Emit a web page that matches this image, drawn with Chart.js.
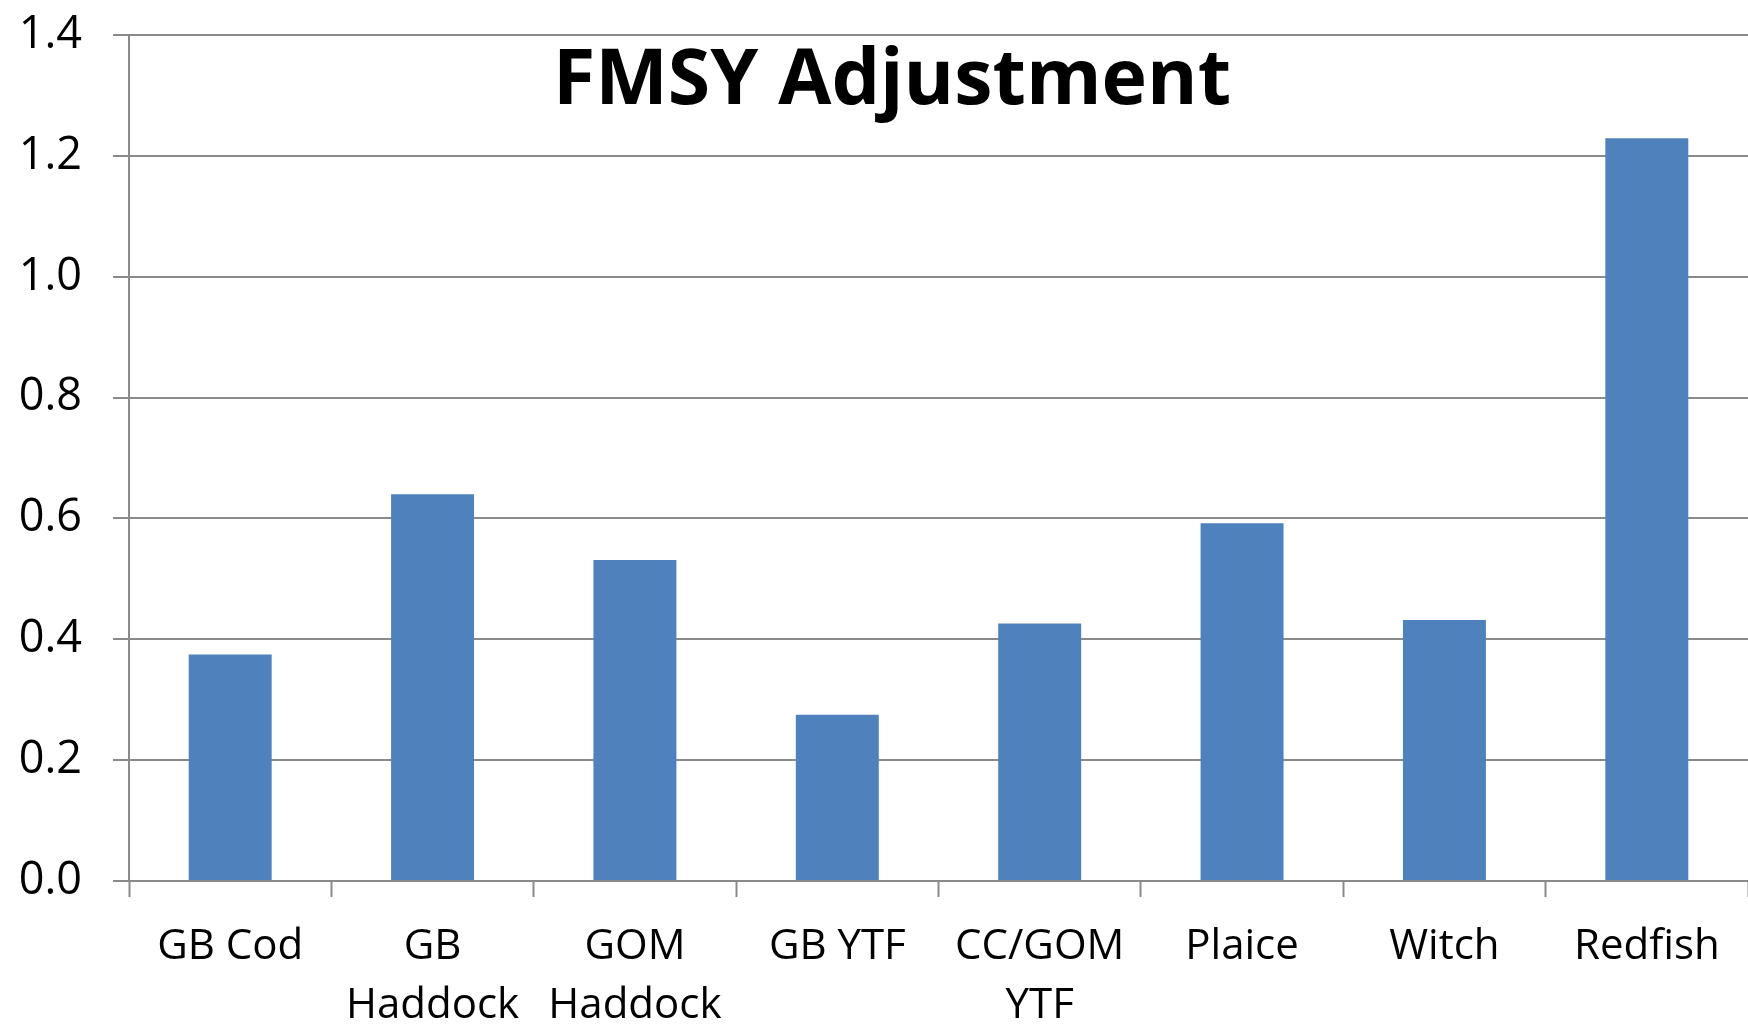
<!DOCTYPE html>
<html>
<head>
<meta charset="utf-8">
<title>FMSY Adjustment</title>
<script src="https://cdn.jsdelivr.net/npm/chart.js@4/dist/chart.umd.min.js"></script>
<style>
  html, body { margin: 0; padding: 0; background: #fff; }
  #wrap { width: 1748px; height: 1026px; position: relative; }
</style>
</head>
<body>
<div id="wrap"><canvas id="chart"></canvas></div>
<script>
// ===================== DATA =====================
const TITLE = 'FMSY Adjustment';
const stocks = ['GB Cod', ['GB', 'Haddock'], ['GOM', 'Haddock'], 'GB YTF', ['CC/GOM', 'YTF'], 'Plaice', 'Witch', 'Redfish'];
const adjustment = [0.375, 0.64, 0.531, 0.275, 0.426, 0.592, 0.432, 1.229];
const yTicks = [0, 0.2, 0.4, 0.6, 0.8, 1.0, 1.2, 1.4];

const BAR_COLOR = '#4f81bd';
const GRID_COLOR = '#8a8a8a';

Chart.defaults.font.family = "'Open Sans', sans-serif";
Chart.defaults.color = '#000';

// title sits inside the plot area, like the original spreadsheet chart
const insideTitle = {
  id: 'insideTitle',
  afterDraw(chart) {
    const ctx = chart.ctx;
    ctx.save();
    ctx.font = "bold 77px 'Open Sans', sans-serif";
    ctx.fillStyle = '#000';
    ctx.textAlign = 'center';
    ctx.textBaseline = 'alphabetic';
    ctx.fillText(TITLE, 892, 104);
    ctx.restore();
  }
};

new Chart(document.getElementById('chart').getContext('2d'), {
  type: 'bar',
  data: {
    labels: stocks,
    datasets: [{
      data: adjustment,
      backgroundColor: BAR_COLOR,
      borderWidth: 0,
      barPercentage: 0.41,
      categoryPercentage: 1.0,
    }]
  },
  options: {
    responsive: true,
    maintainAspectRatio: false,
    devicePixelRatio: 1,
    animation: false,
    layout: { padding: { top: 35, right: 0, left: 0, bottom: 0 } },
    plugins: {
      legend: { display: false },
      title: { display: false },
      tooltip: { enabled: false },
    },
    scales: {
      x: {
        offset: true,
        grid: {
          offset: true,
          drawOnChartArea: false,
          drawTicks: true,
          tickLength: 16,
          tickWidth: 2,
          tickColor: GRID_COLOR,
        },
        border: { color: GRID_COLOR, width: 2 },
        ticks: {
          maxRotation: 0,
          autoSkip: false,
          padding: 21,
          font: { size: 42, lineHeight: 59 / 42 },
          color: '#000',
        },
        afterFit: s => { s.height = 145; },
      },
      y: {
        min: 0,
        max: 1.4,
        afterBuildTicks: s => { s.ticks = yTicks.map(v => ({ value: v })); },
        grid: {
          color: GRID_COLOR,
          lineWidth: 2,
          drawTicks: true,
          tickLength: 16,
        },
        border: { color: GRID_COLOR, width: 2 },
        ticks: {
          padding: 31,
          font: { size: 45 },
          color: '#000',
          callback: v => Number(v).toFixed(1),
        },
        afterFit: s => { s.width = 129; s.paddingTop = 0; s.paddingBottom = 0; },
      }
    }
  },
  plugins: [insideTitle]
});
</script>
</body>
</html>
